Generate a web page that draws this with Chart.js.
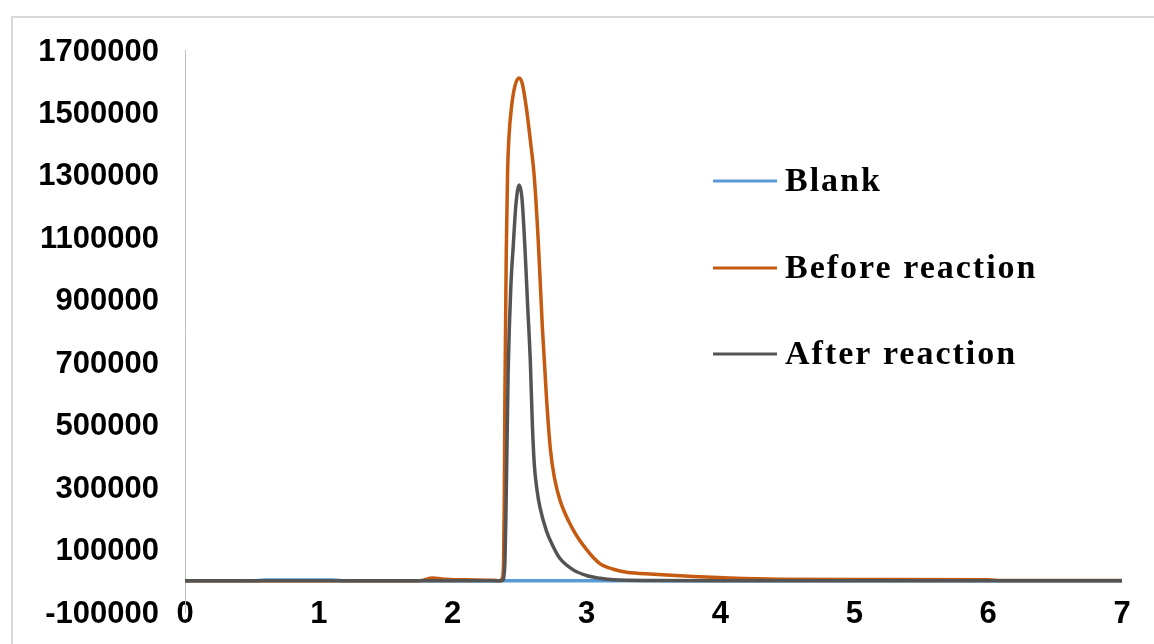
<!DOCTYPE html>
<html>
<head>
<meta charset="utf-8">
<script src="https://cdn.jsdelivr.net/npm/chart.js@4.4.1/dist/chart.umd.min.js"></script>
<style>
    html, body { margin: 0; padding: 0; background: #fff; overflow: hidden; }
    .frame {
        position: absolute; left: 11px; top: 16px;
        width: 1200px; height: 700px;
        border: 2px solid #d9d9d9; box-sizing: border-box;
    }
    #chart { position: absolute; left: 0; top: 0; }
</style>
</head>
<body>
<div class="frame"></div>
<canvas id="chart" width="1154" height="644"></canvas>
<script>
/* retention time (min) vs. detector signal */

const blankX = [0, 0.5, 0.6, 1.1, 1.2, 2.35, 3, 4, 5, 6, 7];
const blankY = [0, 0, 2500, 2500, 0, 0, 0, 0, 0, 0, 0];

const beforeX = [0, 1.75, 1.85, 1.95, 2.1, 2.3, 2.353, 2.37, 2.38, 2.385, 2.39, 2.40,
                 2.41, 2.42, 2.44, 2.465, 2.497, 2.52, 2.55, 2.58, 2.61, 2.64, 2.67,
                 2.70, 2.73, 2.76, 2.80, 2.9, 3.0, 3.1, 3.2, 3.3, 3.5, 3.8, 4.07, 4.44,
                 5, 6, 6.1, 7];
const beforeY = [0, 0, 9000, 5000, 3000, 2000, 0, 8000, 60000, 250000, 600000, 1050000,
                 1310000, 1420000, 1520000, 1585000, 1610000, 1592000, 1515000, 1410000, 1290000, 1080000, 810000,
                 590000, 420000, 330000, 260000, 163000, 100000, 55000, 37000, 27000, 21000, 14000, 9000, 5000,
                 4000, 3000, 1000, 1000];

const afterX = [0, 2.36, 2.377, 2.39, 2.397, 2.414, 2.435, 2.452, 2.472, 2.497, 2.517, 2.539,
                2.56, 2.58, 2.595, 2.61, 2.63, 2.651, 2.70, 2.751, 2.8, 2.9, 3.0, 3.1, 3.2, 3.5, 4, 7];
const afterY = [0, 0, 3000, 60000, 195000, 666000, 950000, 1071000, 1204000, 1268000, 1227000, 1071000,
                880000, 700000, 500000, 370000, 290000, 237000, 160000, 109000, 72000, 35000, 17000, 8000, 3000, 1000, 0, 0];

const seriesNames = ['Blank', 'Before reaction', 'After reaction'];
const seriesColors = ['#5B9BD5', '#C55A11', '#545454'];

const xTicks = [0, 1, 2, 3, 4, 5, 6, 7];
const yMin = -100000, yMax = 1700000, yStep = 200000;

const toPoints = (xs, ys) => xs.map((x, i) => ({ x, y: ys[i] }));

// legend sits inside the plot area, Excel style
const insideLegend = {
    id: 'insideLegend',
    afterDraw(chart) {
        const { ctx, chartArea } = chart;
        const x0 = chartArea.left + 528;
        const rows = [131, 218, 304];
        ctx.save();
        ctx.font = 'bold 34px "Liberation Serif", "Times New Roman", serif';
        ctx.letterSpacing = '2px';
        ctx.textBaseline = 'middle';
        ctx.fillStyle = '#000';
        chart.data.datasets.forEach((ds, i) => {
            const y = chartArea.top + rows[i];
            ctx.strokeStyle = ds.borderColor;
            ctx.lineWidth = 3;
            ctx.beginPath();
            ctx.moveTo(x0, y);
            ctx.lineTo(x0 + 64, y);
            ctx.stroke();
            ctx.fillText(ds.label, x0 + 72, y + 1);
        });
        ctx.restore();
    }
};

const tickFont = { family: '"Liberation Sans", Arial, sans-serif', size: 31, weight: 'bold' };

new Chart(document.getElementById('chart'), {
    type: 'line',
    data: {
        datasets: [
            { label: seriesNames[0], data: toPoints(blankX, blankY), borderColor: seriesColors[0], order: 3 },
            { label: seriesNames[1], data: toPoints(beforeX, beforeY), borderColor: seriesColors[1], order: 2 },
            { label: seriesNames[2], data: toPoints(afterX, afterY), borderColor: seriesColors[2], order: 1 }
        ]
    },
    options: {
        responsive: false,
        animation: false,
        datasets: {
            line: { borderWidth: 3.5, pointRadius: 0, cubicInterpolationMode: 'monotone', fill: false }
        },
        layout: { padding: { left: 0, right: 32, top: 50, bottom: 32 } },
        plugins: {
            legend: { display: false },
            tooltip: { enabled: false }
        },
        scales: {
            x: {
                type: 'linear',
                position: { y: 0 },   // axis crosses at zero like the Excel original
                min: xTicks[0],
                max: xTicks[xTicks.length - 1],
                afterBuildTicks: (s) => { s.ticks = xTicks.map(v => ({ value: v })); },
                grid: { display: false },
                border: { display: false },
                ticks: { color: '#000', font: tickFont, padding: 7, maxRotation: 0 }
            },
            y: {
                min: yMin,
                max: yMax,
                afterFit: (s) => { s.width = 185; },
                // tick marks are hidden; tickLength only sets the label gap
                // (ticks.padding would also pad the chart area vertically)
                grid: { display: false, tickLength: 26 },
                border: { display: true, color: '#bfbfbf', width: 1 },
                ticks: {
                    stepSize: yStep,
                    color: '#000',
                    font: tickFont,
                    padding: 0,
                    labelOffset: 2,
                    callback: (v) => String(v)
                }
            }
        }
    },
    plugins: [insideLegend]
});
</script>
</body>
</html>
